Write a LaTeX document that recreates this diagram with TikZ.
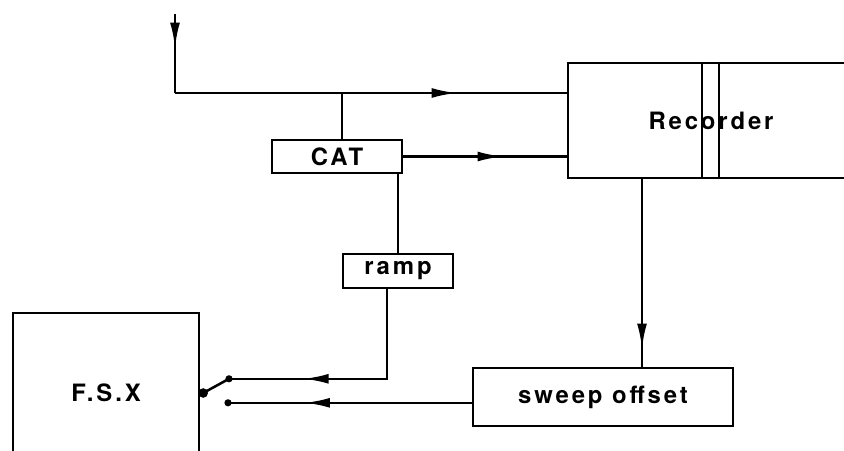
\documentclass[tikz,border=0pt]{standalone}
\usepackage{fontspec}
\setmainfont{TeX Gyre Heros}[LetterSpace=12]
\usetikzlibrary{positioning,arrows.meta,decorations.markings}

\begin{document}
\begin{tikzpicture}[x=1cm,y=1cm,font=\fontsize{17}{20}\selectfont\bfseries,line width=1.8pt,
  blk/.style={draw,inner sep=0pt,line width=1.8pt},
  marr/.style={postaction={decorate},decoration={markings,
    mark=at position #1 with {\arrow{Latex[length=18pt,width=7pt]}}}},
  dot/.style={circle,fill,inner sep=0pt,minimum size=#1}]
\useasboundingbox (0,0) rectangle (21.1,11.25);
\clip (0,0) rectangle (21.1,11.25);
\node[blk,minimum width=7.15cm,minimum height=2.875cm] (rec) at (17.775,8.2375) {Recorder};
\draw[line width=1.3pt] (rec.north) ++(-0.225,0) -- ++(0,-2.875);
\draw[line width=1.3pt] (rec.north) ++(0.2,0) -- ++(0,-2.875);
\node[blk,minimum width=3.25cm,minimum height=0.825cm] (cat) at (8.425,7.3375) {CAT};
\node[blk,minimum width=2.75cm,minimum height=0.85cm] (ramp) at (9.95,4.475) {ramp};
\node[blk,minimum width=6.5cm,minimum height=1.45cm] (sweep) at (15.075,1.325) {sweep offset};
\node[blk,minimum width=4.65cm,minimum height=4cm] (fsx) at (2.65,1.425) {F.S.X};
% switch
\coordinate (in) at (4.375,10.9);
\coordinate (jn) at (4.375,8.925);
\coordinate (tap) at (8.55,8.925);
\coordinate (rx) at (9.675,0);
\coordinate (sx) at (16.05,0);
\node[dot=0.24cm] (piv) at (5.08,1.425) {};
\node[dot=0.18cm] (up) at (5.725,1.78) {};
\node[dot=0.18cm] (lo) at (5.7,1.18) {};
\draw (piv.center) -- (up.center);
% connectors
\draw[marr=0.43] (in) -- (jn);
\draw[marr=0.72] (jn) -- (jn -| rec.west);
\draw (tap) -- (tap |- cat.north);
\draw[marr=0.61] (cat.east) -- (cat.east -| rec.west);
\draw (cat.south -| ramp.north) -- (ramp.north);
\draw[marr=0.70] (ramp.south -| rx) |- (up.center);
\draw[marr=0.905] (rec.south -| sx) -- (sweep.north -| sx);
\draw[marr=0.686] (sweep.west |- lo) -- (lo.center);
\end{tikzpicture}
\end{document}
